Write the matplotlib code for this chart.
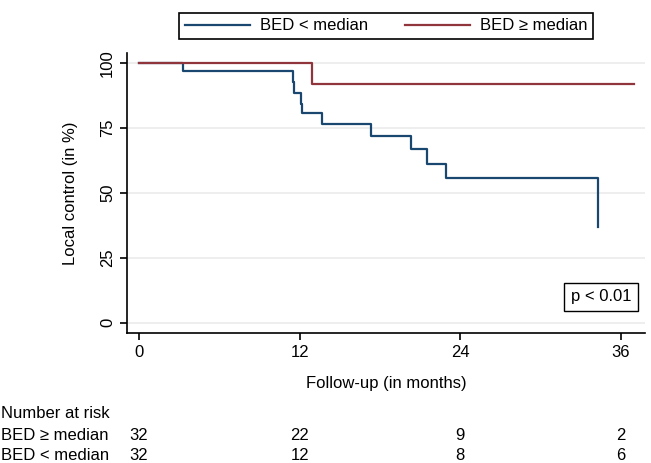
import matplotlib
matplotlib.use("Agg")
import matplotlib.pyplot as plt

plt.rcParams['font.family'] = ['Liberation Sans', 'DejaVu Sans']

# Kaplan-Meier steps
low_times = [0, 3.3, 11.5, 11.6, 12.1, 12.2, 13.7, 17.3, 20.3, 21.5, 22.9, 34.3]
low_surv = [100, 96.9, 92.8, 88.7, 84.4, 80.7, 76.6, 71.8, 66.8, 61.2, 55.6, 37.0]
high_times = [0, 12.95, 37.0]
high_surv = [100, 91.9, 91.9]

risk_times = [0, 12, 24, 36]
risk_high = [32, 22, 9, 2]
risk_low = [32, 12, 8, 6]

BLUE = "#1a476f"
RED = "#90353b"
FS = 12

W, H = 651, 463
fig = plt.figure(figsize=(W / 100, H / 100), dpi=100)
ax = fig.add_axes([127 / W, 1 - 333 / H, (645 - 127) / W, (333 - 53) / H])

ax.step(low_times, low_surv, where="post", color=BLUE, lw=1.6, label="BED < median")
ax.step(high_times, high_surv, where="post", color=RED, lw=1.6, label="BED \u2265 median")

ax.set_xlim(-0.9, 37.8)
ax.set_ylim(-4, 104)
ax.set_xticks(risk_times)
ax.set_yticks([0, 25, 50, 75, 100])
ax.tick_params(axis="y", labelrotation=90, labelsize=FS, length=5, width=1.2)
ax.tick_params(axis="x", labelsize=FS, length=5, width=1.2)
for lab in ax.get_yticklabels():
    lab.set_va("center")
ax.grid(axis="y", color="#ebebeb", lw=1.2)
ax.set_axisbelow(True)
for s in ["top", "right"]:
    ax.spines[s].set_visible(False)
for s in ["left", "bottom"]:
    ax.spines[s].set_linewidth(1.2)

ax.set_xlabel("Follow-up (in months)", fontsize=FS, labelpad=12)
ax.set_ylabel("Local control (in %)", fontsize=FS, labelpad=16)

ax.text(34.5, 10, "p < 0.01", fontsize=FS, ha="center", va="center",
        bbox=dict(boxstyle="square,pad=0.4", fc="white", ec="black", lw=1))

leg = fig.legend(loc="center", bbox_to_anchor=(386 / W, 1 - 26 / H), ncol=2,
                 fontsize=FS, handlelength=3.9, handletextpad=0.6, columnspacing=2.2,
                 fancybox=False, edgecolor="black", framealpha=1, borderpad=0.35,
                 borderaxespad=0)
leg.get_frame().set_linewidth(1.2)

# number at risk table
fig.text(1 / W, 1 - 413 / H, "Number at risk", fontsize=FS, va="center")
fig.text(1 / W, 1 - 436 / H, "BED \u2265 median", fontsize=FS, va="center")
fig.text(1 / W, 1 - 455 / H, "BED < median", fontsize=FS, va="center")
for t, nh, nl in zip(risk_times, risk_high, risk_low):
    xf = fig.transFigure.inverted().transform(ax.transData.transform((t, 0)))[0]
    fig.text(xf, 1 - 436 / H, str(nh), fontsize=FS, ha="center", va="center")
    fig.text(xf, 1 - 455 / H, str(nl), fontsize=FS, ha="center", va="center")

fig.savefig("out.png", dpi=100)
